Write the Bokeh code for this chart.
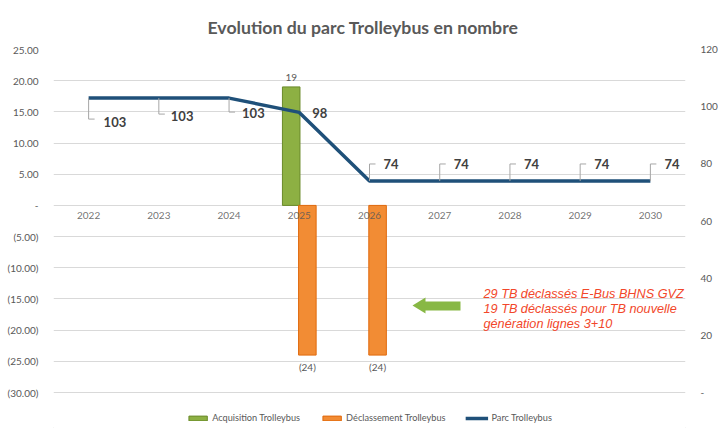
from bokeh.plotting import figure
from bokeh.models import Range1d, LinearAxis, FixedTicker, Legend, LegendItem, ColumnDataSource
from bokeh.embed import file_html
from bokeh.resources import INLINE
from bokeh.core.properties import value

# ---------------- data ----------------
years = ["2022", "2023", "2024", "2025", "2026", "2027", "2028", "2029", "2030"]
acquisition = [0, 0, 0, 19, 0, 0, 0, 0, 0]
declassement = [0, 0, 0, -24, -24, 0, 0, 0, 0]
parc = [103, 103, 103, 98, 74, 74, 74, 74, 74]

left_ticks = [-30, -25, -20, -15, -10, -5, 0, 5, 10, 15, 20, 25]
left_tick_labels = ["(30.00)", "(25.00)", "(20.00)", "(15.00)", "(10.00)", "(5.00)", "-",
                    "5.00", "10.00", "15.00", "20.00", "25.00"]
right_ticks = [0, 20, 40, 60, 80, 100, 120]
right_tick_labels = ["-", "20", "40", "60", "80", "100", "120"]

chart_title = "Evolution du parc Trolleybus en nombre"
series_names = ["Acquisition Trolleybus", "Déclassement Trolleybus", "Parc Trolleybus"]
note_lines = ["29 TB déclassés E-Bus BHNS GVZ",
              "19 TB déclassés pour TB nouvelle",
              "génération lignes 3+10"]

# ---------------- layout / style ----------------
AXIS_H = 343          # pixel height spanned by the value axes (25 .. -30)
EXTRA = 36            # extra room below the axes for the legend
FRAME_W, FRAME_H = 632, AXIS_H + EXTRA
BL, BT = 53, 49
FONT = value("Lato")
GREY = "#595959"
ppx = FRAME_W / len(years)
ppy_left = AXIS_H / 55.0
ppy_right = AXIS_H / 120.0

def px_to_x(px):
    return (px - BL) / ppx - 0.5

def py_to_yl(py):
    return 25 - (py - BT) / ppy_left

p = figure(frame_width=FRAME_W, frame_height=FRAME_H,
           x_range=Range1d(-0.5, len(years) - 0.5),
           y_range=Range1d(-30 - EXTRA / ppy_left, 25),
           x_axis_location=None, output_backend="svg", toolbar_location=None,
           min_border_left=BL, min_border_right=29, min_border_top=BT, min_border_bottom=3,
           title=chart_title)
p.extra_y_ranges = {"parc": Range1d(-EXTRA / ppy_right, 120)}
p.outline_line_color = None
p.background_fill_color = "white"
p.border_fill_color = "white"
p.styles = {"outline": "1px solid #D9D9D9", "outline-offset": "-4px"}

p.title.align = "left"
p.title.offset = 154
p.title.text_font = "Lato"
p.title.text_font_size = "17.7px"
p.title.text_font_style = "bold"
p.title.text_color = GREY
p.title.standoff = 24

# left axis
ya = p.yaxis[0]
ya.ticker = FixedTicker(ticks=left_ticks)
ya.major_label_overrides = {t: l for t, l in zip(left_ticks, left_tick_labels)}
ya.axis_line_color = None
ya.major_tick_line_color = None
ya.minor_tick_line_color = None
ya.major_label_standoff = 9
ya.major_label_text_font = "Lato"
ya.major_label_text_font_size = "10px"
ya.major_label_text_color = GREY

p.xgrid.visible = False
p.ygrid.ticker = FixedTicker(ticks=left_ticks)
p.ygrid.grid_line_color = "#D9D9D9"

# right axis
ra = LinearAxis(y_range_name="parc", ticker=FixedTicker(ticks=right_ticks))
ra.major_label_overrides = {t: l for t, l in zip(right_ticks, right_tick_labels)}
ra.axis_line_color = None
ra.major_tick_line_color = None
ra.minor_tick_line_color = None
ra.major_label_standoff = 9
ra.major_label_text_font = "Lato"
ra.major_label_text_font_size = "10px"
ra.major_label_text_color = GREY
p.add_layout(ra, "right")

idx = list(range(len(years)))
DODGE = 0.115
BAR_W = 0.25

# bars
acq_src = ColumnDataSource(dict(
    x=[i - DODGE for i in idx if acquisition[i] != 0],
    top=[v for v in acquisition if v != 0],
    lab=[str(v) for v in acquisition if v != 0]))
dec_src = ColumnDataSource(dict(
    x=[i + DODGE for i in idx if declassement[i] != 0],
    top=[v for v in declassement if v != 0],
    lab=["(%d)" % abs(v) for v in declassement if v != 0]))

r_acq = p.vbar(x="x", top="top", bottom=0, width=BAR_W, source=acq_src,
               fill_color="#8DB043", line_color="#6A8A2A", line_width=1)
r_dec = p.vbar(x="x", top="top", bottom=0, width=BAR_W, source=dec_src,
               fill_color="#F28C34", line_color="#E0690C", line_width=1)

# year labels at zero line (drawn over the bars, as in the reference)
p.text(x=idx, y=[0] * len(years), text=years, text_font=FONT, text_font_size="10px",
       text_color=GREY, text_alpha=0.85, text_align="center", text_baseline="middle", y_offset=10)

p.text(x="x", y="top", text="lab", source=acq_src, text_font=FONT, text_font_size="10px",
       text_color=GREY, text_align="center", text_baseline="bottom", y_offset=-6)
p.text(x="x", y="top", text="lab", source=dec_src, text_font=FONT, text_font_size="10px",
       text_color=GREY, text_align="center", text_baseline="top", y_offset=6)

# line
r_line = p.line(x=idx, y=parc, y_range_name="parc", line_color="#1F5079", line_width=3.5)

# line labels with leaders
label_dx = [15, 12, 13, 13, 14, 14, 14, 14, 14]
label_dy = [24, 18, 15, 1, -17, -17, -17, -17, -17]
leader_dy = [21, 16, 14, 0, -17, -17, -17, -17, -17]
lead_xs, lead_ys = [], []
for i in idx:
    if leader_dy[i] != 0:
        yc = parc[i] - leader_dy[i] / ppy_right
        lead_xs.append([i, i, i + 6 / ppx])
        lead_ys.append([parc[i], yc, yc])
p.multi_line(xs=lead_xs, ys=lead_ys, y_range_name="parc", line_color="#A6A6A6", line_width=1)

lab_src = ColumnDataSource(dict(x=idx, y=parc, t=[str(v) for v in parc], dx=label_dx, dy=label_dy))
p.text(x="x", y="y", text="t", source=lab_src, y_range_name="parc", x_offset="dx", y_offset="dy",
       text_font=FONT, text_font_size="13px", text_font_style="bold", text_color="#404040",
       text_align="left", text_baseline="middle")

# annotation arrow + note
arrow_px = [412, 425, 425, 460, 460, 425, 425]
arrow_py = [305, 297, 301, 301, 310, 310, 313]
p.patch(x=[px_to_x(v) for v in arrow_px], y=[py_to_yl(v) for v in arrow_py],
        fill_color="#88B845", line_color=None)
note_py = [293, 308, 323]
p.text(x=[px_to_x(483)] * 3, y=[py_to_yl(v) for v in note_py], text=note_lines,
       text_font=value("Liberation Sans"), text_font_size="12.7px", text_font_style="italic",
       text_color="#F2472A", text_align="left", text_baseline="middle")

legend = Legend(items=[LegendItem(label=series_names[0], renderers=[r_acq]),
                       LegendItem(label=series_names[1], renderers=[r_dec]),
                       LegendItem(label=series_names[2], renderers=[r_line])],
                orientation="horizontal", location="bottom_center")
legend.glyph_width = 23
legend.glyph_height = 6
legend.label_height = 11
legend.label_standoff = 3
legend.spacing = 20
legend.padding = 2
legend.margin = 5
legend.border_line_color = None
legend.background_fill_alpha = 0
legend.label_text_font = "Lato"
legend.label_text_font_size = "9.2px"
legend.label_text_color = GREY
p.add_layout(legend)

open("out.html", "w").write(file_html(p, INLINE))
